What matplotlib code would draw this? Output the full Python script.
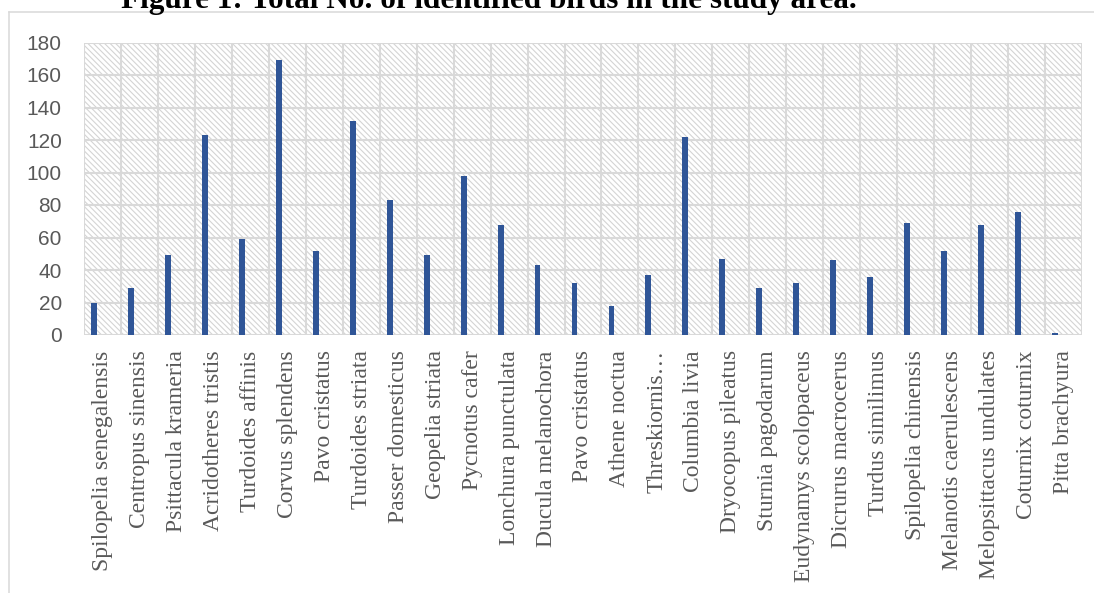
import matplotlib
matplotlib.use("Agg")
import matplotlib.pyplot as plt
from matplotlib.patches import Rectangle
from matplotlib.lines import Line2D

species = [
    "Spilopelia senegalensis", "Centropus sinensis", "Psittacula krameria",
    "Acridotheres tristis", "Turdoides affinis", "Corvus splendens",
    "Pavo cristatus", "Turdoides striata", "Passer domesticus",
    "Geopelia striata", "Pycnotus cafer", "Lonchura punctulata",
    "Ducula melanochora", "Pavo cristatus", "Athene noctua",
    "Threskiornis…", "Columbia livia", "Dryocopus pileatus",
    "Sturnia pagodarum", "Eudynamys scolopaceus", "Dicrurus macrocerus",
    "Turdus similimus", "Spilopelia chinensis", "Melanotis caerulescens",
    "Melopsittacus undulates", "Coturnix coturnix", "Pitta brachyura",
]
counts = [20, 29, 49, 123, 59, 169, 52, 132, 83, 49, 98, 68, 43, 32, 18,
          37, 122, 47, 29, 32, 46, 36, 69, 52, 68, 76, 1]
y_ticks = [0, 20, 40, 60, 80, 100, 120, 140, 160, 180]

W, H = 1094, 593
plt.rcParams["hatch.linewidth"] = 0.8
fig = plt.figure(figsize=(W / 100, H / 100), dpi=100)
fig.patch.set_facecolor("white")

# chart frame (runs off the right and bottom edges)
frame_kw = dict(color="#d9d9d9", linewidth=1.1, transform=fig.transFigure)
fig.add_artist(Line2D([9 / W, 1.0], [1 - 12 / H, 1 - 12 / H], **frame_kw))
fig.add_artist(Line2D([9 / W, 9 / W], [0.0, 1 - 12 / H], **frame_kw))

fig.text(489 / W, 1 - 8 / H, "Figure 1: Total No. of identified birds in the study area.",
         ha="center", va="baseline", fontsize=22.5, fontweight="bold",
         family="Liberation Serif", color="black")

left, right, top, bottom = 84, 1082, 42.5, 335
ax = fig.add_axes([left / W, 1 - bottom / H, (right - left) / W, (bottom - top) / H])

# patterned plot area
ax.add_patch(Rectangle((0, 0), 1, 1, transform=ax.transAxes, facecolor="white",
                       edgecolor="#d4d4d4", hatch="\\\\\\\\\\\\", linewidth=0, zorder=0))

x = list(range(len(species)))
ax.bar([i - 0.23 for i in x], counts, width=0.16, color="#2f5597", zorder=3)

ax.set_xlim(-0.5, len(species) - 0.5)
ax.set_ylim(0, 180)
ax.set_yticks(y_ticks)
ax.set_xticks(x)
ax.set_xticks([i - 0.5 for i in range(len(species) + 1)], minor=True)
ax.set_axisbelow(True)
ax.grid(axis="y", which="major", color="#d9d9d9", linewidth=1.5, zorder=1)
ax.grid(axis="x", which="minor", color="#d9d9d9", linewidth=1.5, zorder=1)
ax.grid(axis="x", which="major", visible=False)
for s in ax.spines.values():
    s.set_visible(False)
ax.tick_params(axis="both", which="both", length=0)
ax.tick_params(axis="y", pad=16, labelsize=15, labelcolor="#595959")
ax.tick_params(axis="x", pad=11)
ax.set_yticklabels([str(v) for v in y_ticks], family="Liberation Sans")
ax.set_xticklabels(species, rotation=90, va="top", ha="center", fontsize=17,
                   family="Liberation Serif", color="#595959")

fig.savefig("out.png", dpi=100, facecolor="white")
